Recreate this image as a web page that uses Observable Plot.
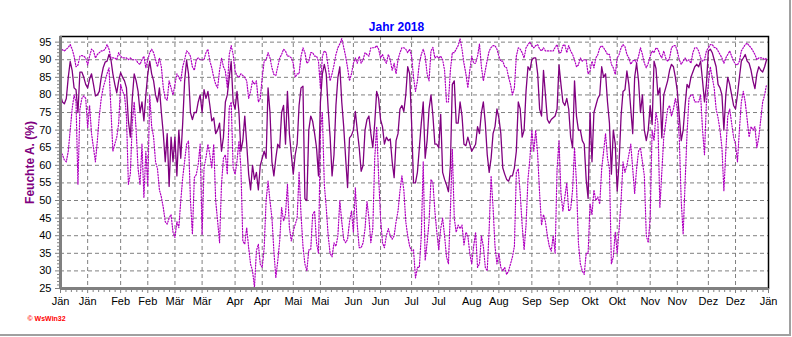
<!DOCTYPE html>
<html><head><meta charset="utf-8">
<script src="https://cdn.jsdelivr.net/npm/d3@7"></script>
<script src="https://cdn.jsdelivr.net/npm/@observablehq/plot@0.6"></script>
<style>
html,body{margin:0;padding:0;background:#fff;}
#chart{position:relative;width:792px;height:337px;overflow:hidden;}
#border{position:absolute;left:0;top:0;width:789px;height:334px;border-right:2px solid #a0a0a0;border-bottom:2px solid #a0a0a0;pointer-events:none;}
</style></head><body><div id="chart"><div id="border"></div></div>
<script>
const year = 2018;
const title = "Jahr 2018";
const yLabel = "Feuchte A. (%)";
const credit = "\u00a9 WsWin32";
const monthLabels = ["Jän","Feb","Mär","Apr","Mai","Jun","Jul","Aug","Sep","Okt","Nov","Dez"];
const yTicks = [25,30,35,40,45,50,55,60,65,70,75,80,85,90,95];

// daily mean humidity (solid)
const humMean = [
80,78,77.5,79,85,89.5,87,82,81.5,75,
86.5,86.5,85,83,82,84.5,86,83,79.7,80,
81,85,87.7,89.3,89.6,91.5,90,86,83,80.6,
84,86.3,85,84,82,72.6,68,79,86,84,
81,75,78,72.6,80,86,89.6,86,84,80,
78,82,75,69,61,69,54,68,61,68,
57,70,62,72,84,89.8,86,75,73,75,
75,78,80,75,81.5,79,81,77,72.6,73.5,
69,70,72,64,68,78,80,85,89.5,78,
76,81,75,64,67,74,66,57.5,53,60,
56,58,53,60,62,64,62,82,75,61,
57,62,66,65,75,77,66,81,69,63,
57.5,63,66,77,82,82.5,50.5,50,70,74,
72.5,69,65,57,78,86,88.7,86,76,68,
57,63,77,84.9,88,78,71,62,53.7,67.8,
68.5,70,75.3,70,65,58.3,60,70,73,74,
69,65,72,81,79,73,71,66,68,67,
67.5,61,56.5,67,69,76,77,75.3,80,88,
86,72,55,55,58,65,72,78,62,67,
76,80,74,66,66,65,74.5,58,56,54.5,
52.5,60,83,84,72,72,78,74,66,65.6,
68,66,64,65,66,71,69,75,78,72,
63,58,62,69,71,76,73.5,69,59.3,57.5,
56,55.5,57,57,59.3,64,78,76,68,70,
81,88,87,90,90.5,90.5,86,76,74,87,
80,73,72,73,73.5,74,76,88.5,83,78,
77,79,76,68,65,84,74,70,70,67,
66,56,50.6,75,61,75,77,79,80,88,
85,86,78,72,57.5,70,66,52.7,61,74,
81,81.5,86.8,83,76,69,85,89,84,75,
80,70,67,70,77,71.6,89.6,87.5,80,82,
67.8,80,82,84,87,88.7,88,85,81,74,
67,70,77,83,82,85,86.5,88,88.7,88,
89.6,84,78,83,92.5,93,92,90,88,83,
82,80,70,80,85,83,80,77,76,80,
85,89.6,90.5,91.5,89.6,89,87,84,81.8,86,
88,87,86.5,88,90
];

// daily maximum humidity (dotted, upper)
const humMax = [
93.5,92.8,92.5,93,93.5,94.3,93,91,88,88.5,
91,91.2,91,90.5,88.5,91,93,92.5,90.5,91.5,
92,92.5,92.5,93,94.3,93,90.5,90.5,90.5,90,
92,91,90.5,90.5,90.5,90,90.5,90,90,90,
89,88.7,90,91,87.7,90,92,93,92,90,
88,90.5,88,82,79,78.5,84,82,80,83,
86,85,84,88,90,92.5,92,91,88,87,
90,90.5,90,90,90,92,93,89.6,87.7,85,
83,82,87,90.5,88,86.8,82,91.5,94,91.5,
86.8,85.5,85,86,85.5,85,84,79,81,84,
83,84,78,79,85,89.6,90,92,90.5,87.7,
85.8,85.5,88,90.5,91.5,93,92.5,91,91,90.5,
89,85,86,86,91,93.4,92,89,89.5,92,
92,91,91,89.6,82,91,92.5,92,88,84,
86,88.5,91.5,93.4,94.5,96,93.5,91,87.7,84,
86,89,90.5,89,91,89,90,92,91.5,91,
93.4,93.4,93.4,94,93,90.5,91.5,90,89,91.5,
90,87,89,86,90,92,93.4,93.4,93,92,
93,91,85,81,84,89,91.5,93,91,86,
84,92.5,93.5,90.5,91,90.5,91,90,87,78,
78,87,92,92,93,94,96,93,89,86,
82,87,91,89,89,91,94.5,88,84,87,
90,92.5,93.5,94,94,93,91,89.6,89.6,88,
87.7,85,83,80,82,91,93.4,93,92,90.5,
93.4,94.3,95,94,93.4,94,94.3,93,92.5,93.4,
92.5,92.5,92.5,92.5,92.5,93.5,94.3,92,92,94,
94.3,92,94,92.5,91.5,90,88,88.5,90.5,89.6,
90,90,86,86.8,89.6,87.7,90.5,91.5,93.4,94,
93.4,92.5,91.5,91.5,88.7,87.7,85.8,90.5,91.5,93.4,
94.3,93.7,91.5,90.5,88.7,89.6,90,89,91,93.4,
91.5,89,87.7,89,91,92.5,92,93.4,93,91.5,
90.5,92.5,90.5,89.5,90.5,93.4,94,94,92.5,90,
88.7,89.6,90.5,89.6,90,89,92,93.4,93.4,92.5,
90.5,89.6,90,92.5,93.4,94.3,94.3,93.5,93.4,92.5,
91.5,90.5,89,90.5,91.5,92.5,91,89.6,88.7,88.5,
89.6,92.5,93.4,94.3,94.7,94,93.4,92.5,91.5,90,
90.5,90.5,90.5,90,90.5
];

// daily minimum humidity (dotted, lower)
const humMin = [
64,63,61.5,61,64,70,76,80,78,54.6,
76,79,79.7,79,70.7,77,69,65,61,67,
74,79,82,84,86,87.7,76,64,66,68,
72,83,81,80,74,54.6,57.5,72,78,70,
59,54.6,66,50.8,64,54,80,71,68,61,
59,53,51,48,44,43.3,45,46,41,39.5,
44,42.3,49.9,56.5,61.2,66,66.9,50,40.4,56.5,
57.4,60.3,66,40.4,59.3,62.2,66,63,59.3,66,
49.9,44.2,38,54.6,62,63,57.4,76.4,78,59.3,
57.4,61.2,66.9,59.3,38.5,37.6,42.3,36.6,31.9,30,
25.3,35.7,37.6,31.9,31,36.6,50,55.5,49.9,45.1,
35.7,28.1,32.8,38.5,48,44.2,46.1,54.6,42.3,38.5,
41.3,43.2,45,58,46,37,32,30,36,36,
46,47,38,35,70,75,54.6,48,40,35,
34,38,37,40,50,44,39,38,39,44,
47,41,53.7,43,36.6,36.6,38,42,49.7,45,
38,42,62,71,57,45,38,36.6,40,42,
40,39,40,44,47,52.7,57,53,44,40,
37,35.7,36,28,31,31,40,61,33,38,
44,56,55,47,41,36,42,45,40,34,
32,47,64.6,45,41,43,42,43,37.4,41,
40,35,32,37,41,31,32,40,37,31,
30,42,57,48,37,32,35,31,30,31,
29,30,32,34,37,58,59,52,43,36,
43,56,62,70,64,70,63,52,43,46,
44,40,37,35.6,40,35,59,67,52,47,
51,55,47,47.5,53,65,55,38,32,30,
29,35,35,49,46,53,50,51,49,59,
64,69,62,59,32,34,41,35,42,50,
61,58,60,63,66,59,52,59,64,65,
61,57,40,38,45,70,67,75,72,48,
58,68,72,76,77,74,76,79,76,68,
50,40.4,55,69,79,80,80,78,78,78,
80,70,63,78,83,88,85,82,76,73.5,
70,65,52.7,64,74,76,72,68,66,61,
70,78,81,78,73,68,71,70,71,65,
68,73,78,80,83
];

const data = humMean.map((v, i) => ({
  date: new Date(year, 0, 1 + i), mean: v, max: humMax[i], min: humMin[i]
}));

const majorTicks = [];
for (let m = 0; m < 12; m++) { majorTicks.push(new Date(year, m, 1)); majorTicks.push(new Date(year, m, 15)); }
majorTicks.push(new Date(year + 1, 0, 1));

// minor ticks: subdivide each interval between labelled ticks into ~2.8-day steps
const minorTicks = [];
for (let k = 0; k < majorTicks.length - 1; k++) {
  const a = +majorTicks[k], b = +majorTicks[k + 1];
  const n = Math.round((b - a) / 86400000 / 2.8);
  for (let j = 1; j < n; j++) minorTicks.push(new Date(a + (b - a) * j / n));
}
const yMinor = [];
for (let v = 26; v < 96; v++) if (v % 5 !== 0) yMinor.push(v);

const gray = "#808080";
const plot = Plot.plot({
  width: 792, height: 337,
  marginLeft: 60, marginRight: 24, marginTop: 36, marginBottom: 49,
  style: {fontFamily: "Arial, 'Liberation Sans', sans-serif", fontSize: "11px", background: "transparent", overflow: "visible"},
  x: {type: "time", domain: [new Date(year, 0, 1), new Date(year + 1, 0, 1)]},
  y: {domain: [25, 96.6]},
  marks: [
    Plot.gridY(yTicks, {stroke: gray, strokeOpacity: 1, strokeDasharray: "4,3"}),
    Plot.gridX(majorTicks, {stroke: gray, strokeOpacity: 1, strokeDasharray: "4,3"}),
    Plot.frame({stroke: "#000", strokeWidth: 1.5}),
    Plot.line(data, {x: "date", y: "max", stroke: "#b000c0", strokeWidth: 1.2, strokeDasharray: "1.2,1.6"}),
    Plot.line(data, {x: "date", y: "min", stroke: "#b000c0", strokeWidth: 1.2, strokeDasharray: "1.2,1.6"}),
    Plot.line(data, {x: "date", y: "mean", stroke: "#800080", strokeWidth: 1.3}),
    Plot.ruleX([new Date(year, 0, 1)], {stroke: gray, strokeWidth: 3}),
    Plot.ruleY([25], {stroke: gray, strokeWidth: 3}),
    Plot.axisY(yTicks, {tickSize: 5, tickPadding: 4, stroke: gray, fill: "#000", fontSize: 11, label: null}),
    Plot.axisY(yMinor, {tickSize: 3, tickFormat: () => "", stroke: gray, label: null}),
    Plot.axisX(majorTicks, {tickSize: 5, tickPadding: 4, stroke: gray, fill: "#000", fontSize: 11,
      tickFormat: d => monthLabels[d.getMonth()], label: null}),
    Plot.axisX(minorTicks, {tickSize: 4, tickFormat: () => "", stroke: gray, label: null}),
    Plot.text([title], {frameAnchor: "top-left", dx: 336, dy: -14, fill: "#0000ff", fontWeight: "bold", fontSize: 12, textAnchor: "middle"}),
    Plot.text([yLabel], {frameAnchor: "left", dx: -30, dy: 0, rotate: -90, fill: "#800080", fontWeight: "bold", fontSize: 12, textAnchor: "middle"}),
    Plot.text([credit], {frameAnchor: "bottom-left", dx: -33, dy: 32, fill: "#ff0000", fontWeight: "bold", fontSize: 7, textAnchor: "start"})
  ]
});
plot.style.position = "absolute";
plot.style.left = "0px";
plot.style.top = "0px";
document.getElementById("chart").prepend(plot);
</script>
</body></html>
